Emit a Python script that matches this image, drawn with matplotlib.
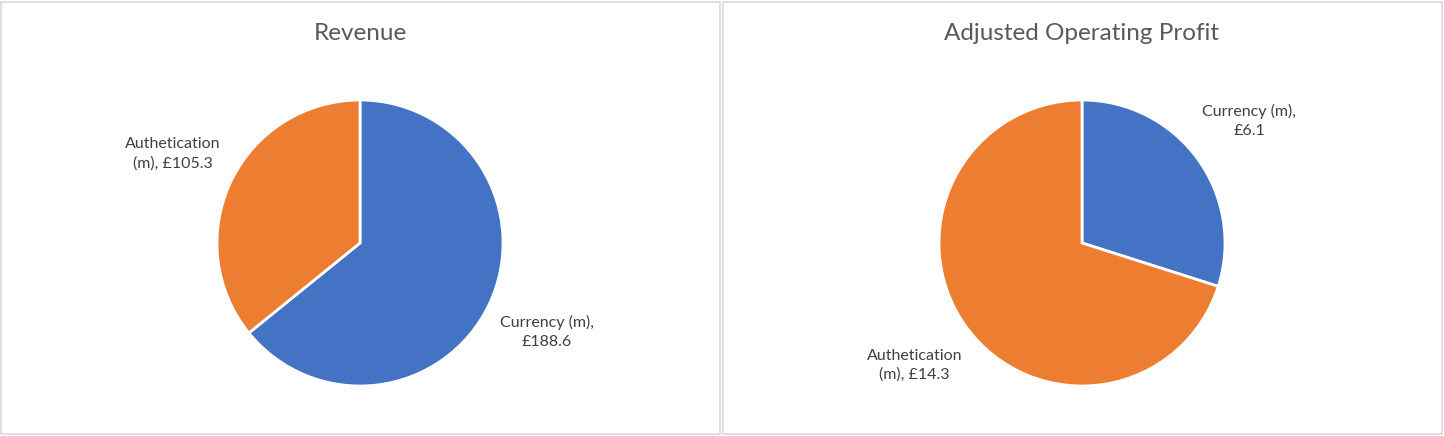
import matplotlib.pyplot as plt
from matplotlib.patches import Rectangle

plt.rcParams['font.family'] = ['Lato', 'DejaVu Sans']

segments = ["Currency (m)", "Authetication (m)"]
revenue = [188.6, 105.3]
profit = [6.1, 14.3]
titles = ["Revenue", "Adjusted Operating Profit"]
colors = ["#4472C4", "#ED7D31"]
revenue_labels = ["Currency (m),\n£188.6", "Authetication\n(m), £105.3"]
profit_labels = ["Currency (m),\n£6.1", "Authetication\n(m), £14.3"]

W, H = 1444, 436
fig = plt.figure(figsize=(W / 100, H / 100), dpi=100)

# panel frames
for x0, x1 in [(1, 720), (723, 1442)]:
    fig.patches.append(Rectangle((x0 / W, 2 / H), (x1 - x0) / W, (H - 4) / H,
                                 transform=fig.transFigure, fill=False,
                                 edgecolor="#d9d9d9", linewidth=1.2))

r = 143
for cx, vals, labs, title in [(360, revenue, revenue_labels, titles[0]),
                              (1082, profit, profit_labels, titles[1])]:
    cy = 243
    ax = fig.add_axes([(cx - r) / W, (H - cy - r) / H, 2 * r / W, 2 * r / H])
    wedges, texts = ax.pie(vals, labels=labs, colors=colors, startangle=90,
                           counterclock=False, labeldistance=1.45,
                           wedgeprops=dict(edgecolor="white", linewidth=2),
                           textprops=dict(fontsize=11.5, color="#404040",
                                          linespacing=1.45))
    for t in texts:
        t.set_ha("center")
        t.set_va("center")
    ax.set_xlim(-1, 1)
    ax.set_ylim(-1, 1)
    ax.set_aspect("equal")
    fig.text(cx / W, 1 - 34 / H, title, ha="center", va="center",
             fontsize=17.5, color="#595959")

fig.savefig("out.png", dpi=100)
